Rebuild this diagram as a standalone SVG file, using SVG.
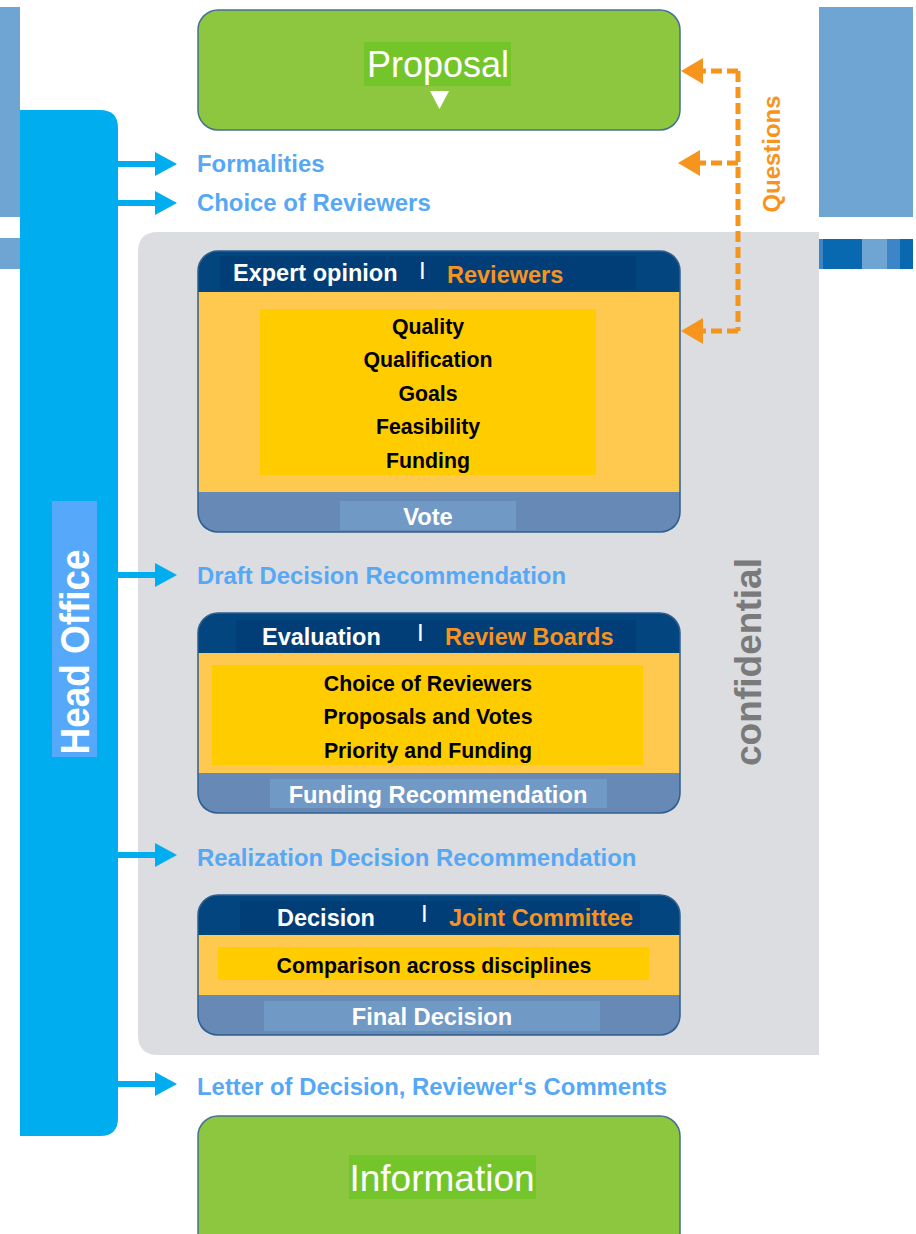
<svg xmlns="http://www.w3.org/2000/svg" width="916" height="1234" viewBox="0 0 916 1234">
<defs>
<style>
.lbl{font-family:"Liberation Sans",Arial,sans-serif;font-weight:bold;font-size:23.9px;fill:#56a8f5}
.hw{font-family:"Liberation Sans",Arial,sans-serif;font-weight:bold;font-size:23.5px;fill:#ffffff}
.ho{font-family:"Liberation Sans",Arial,sans-serif;font-weight:bold;font-size:23.5px;fill:#f7941d}
.sep{font-family:"Liberation Sans",Arial,sans-serif;font-size:24px;fill:#ffffff}
.it{font-family:"Liberation Sans",Arial,sans-serif;font-weight:bold;font-size:21.3px;fill:#000000;text-anchor:middle}
.bt{font-family:"Liberation Sans",Arial,sans-serif;font-weight:bold;font-size:23.7px;fill:#ffffff;text-anchor:middle}
.big{font-family:"Liberation Sans",Arial,sans-serif;font-size:37px;fill:#ffffff;text-anchor:middle}
.green{fill:#8dc63f;stroke:#45708f;stroke-width:1.5}
.hdr{fill:#03457f}
.body{fill:#fec94e}
.foot{fill:#6689b6}
.outline{fill:none;stroke:#2f5f8f;stroke-width:1.5}
.inner{fill:#ffcc00}
.hl{fill:#7099c6}
.hdrhl{fill:#013d77}
.blue{stroke:#00aeef;stroke-width:6;fill:none}
.q{stroke:#f7941d;stroke-width:5;fill:none;stroke-dasharray:11 5}
</style>
<marker id="ah" viewBox="0 0 22 24" refX="0" refY="12" markerWidth="22" markerHeight="24" markerUnits="userSpaceOnUse" orient="auto">
<path d="M0,0 L22,12 L0,24 Z" fill="#00aeef"/>
</marker>
<marker id="qa" viewBox="0 0 22 26" refX="0" refY="13" markerWidth="22" markerHeight="26" markerUnits="userSpaceOnUse" orient="auto">
<path d="M0,0 L22,13 L0,26 Z" fill="#f7941d"/>
</marker>
</defs>
<rect width="916" height="1234" fill="#ffffff"/>

<g id="background">
<rect x="0" y="7" width="20" height="210" fill="#6fa5d3"/>
<rect x="0" y="238" width="20" height="31" fill="#6fa5d3"/>
<rect x="819" y="7" width="94" height="210" fill="#6fa5d3"/>
<rect x="819" y="239" width="94" height="30" fill="#0868b0"/>
<rect x="819" y="239" width="4" height="30" fill="#3d85c6"/>
<rect x="862" y="239" width="25" height="30" fill="#6fa5d3"/>
<rect x="887" y="239" width="13" height="30" fill="#3d85c6"/>
</g>

<g id="confidential">
<path d="M158,232 H819 V1055 H158 Q138,1055 138,1035 V252 Q138,232 158,232 Z" fill="#dcdde0"/>
<text transform="translate(761,662) rotate(-90)" text-anchor="middle" textLength="208" lengthAdjust="spacingAndGlyphs" style="font-family:'Liberation Sans',Arial,sans-serif;font-weight:bold;font-size:37px;fill:#7a7a7a">confidential</text>
</g>

<g id="head-office">
<path d="M20,110 H100 Q118,110 118,128 V1118 Q118,1136 100,1136 H20 Z" fill="#00aeef"/>
<rect x="52" y="501" width="45" height="256" fill="#55a8fa"/>
<text transform="translate(89,652) rotate(-90)" text-anchor="middle" textLength="205" lengthAdjust="spacingAndGlyphs" style="font-family:'Liberation Sans',Arial,sans-serif;font-weight:bold;font-size:40px;fill:#ffffff">Head Office</text>
</g>

<g id="proposal">
<rect x="198" y="10" width="482" height="120" rx="20" class="green"/>
<rect x="364" y="42" width="147" height="44" fill="#74c52a"/>
<text x="438" y="77" class="big" style="font-size:36px">Proposal</text>
<path d="M430,91 L449,91 L439.5,109 Z" fill="#ffffff"/>
</g>

<g id="expert-opinion">
<rect x="198" y="251" width="482" height="281" rx="20" class="hdr"/>
<rect x="198" y="292" width="482" height="200" class="body"/>
<path d="M198,492 H680 V512 Q680,532 660,532 H218 Q198,532 198,512 Z" class="foot"/>
<rect x="220" y="256" width="416" height="34" class="hdrhl"/>
<rect x="260" y="309" width="336" height="166" class="inner"/>
<rect x="340" y="501" width="176" height="29" class="hl"/>
<rect x="198" y="251" width="482" height="281" rx="20" class="outline"/>
<text x="233" y="281" class="hw">Expert opinion</text>
<text x="419" y="279" class="sep">I</text>
<text x="447" y="283" class="ho">Reviewers</text>
<text x="428" y="334" class="it">Quality</text>
<text x="428" y="367" class="it">Qualification</text>
<text x="428" y="401" class="it">Goals</text>
<text x="428" y="434" class="it">Feasibility</text>
<text x="428" y="468" class="it">Funding</text>
<text x="428" y="525" class="bt">Vote</text>
</g>

<g id="evaluation">
<rect x="198" y="613" width="482" height="200" rx="20" class="hdr"/>
<rect x="198" y="653" width="482" height="120" class="body"/>
<path d="M198,773 H680 V793 Q680,813 660,813 H218 Q198,813 198,793 Z" class="foot"/>
<rect x="236" y="620" width="400" height="32" class="hdrhl"/>
<rect x="212" y="665" width="431" height="100" class="inner"/>
<rect x="270" y="779" width="337" height="29" class="hl"/>
<rect x="198" y="613" width="482" height="200" rx="20" class="outline"/>
<text x="262" y="645" class="hw">Evaluation</text>
<text x="417" y="641" class="sep">I</text>
<text x="445" y="645" class="ho">Review Boards</text>
<text x="428" y="691" class="it">Choice of Reviewers</text>
<text x="428" y="724" class="it">Proposals and Votes</text>
<text x="428" y="758" class="it">Priority and Funding</text>
<text x="438" y="803" class="bt">Funding Recommendation</text>
</g>

<g id="decision">
<rect x="198" y="895" width="482" height="140" rx="20" class="hdr"/>
<rect x="198" y="935" width="482" height="60" class="body"/>
<path d="M198,995 H680 V1015 Q680,1035 660,1035 H218 Q198,1035 198,1015 Z" class="foot"/>
<rect x="240" y="901" width="400" height="32" class="hdrhl"/>
<rect x="218" y="947" width="431" height="33" class="inner"/>
<rect x="264" y="1001" width="336" height="30" class="hl"/>
<rect x="198" y="895" width="482" height="140" rx="20" class="outline"/>
<text x="277" y="926" class="hw">Decision</text>
<text x="421" y="922" class="sep">I</text>
<text x="449" y="926" class="ho">Joint Committee</text>
<text x="434" y="973" class="it">Comparison across disciplines</text>
<text x="432" y="1025" class="bt">Final Decision</text>
</g>

<g id="information">
<rect x="198" y="1116" width="482" height="140" rx="20" class="green"/>
<rect x="349" y="1155" width="187" height="44" fill="#74c52a"/>
<text x="442" y="1191" class="big">Information</text>
</g>

<g id="labels">
<text x="197" y="172" class="lbl">Formalities</text>
<text x="197" y="211" class="lbl">Choice of Reviewers</text>
<text x="197" y="584" class="lbl">Draft Decision Recommendation</text>
<text x="197" y="866" class="lbl">Realization Decision Recommendation</text>
<text x="197" y="1095" class="lbl">Letter of Decision, Reviewer‘s Comments</text>
<text transform="translate(780,154) rotate(-90)" text-anchor="middle" textLength="117" lengthAdjust="spacingAndGlyphs" style="font-family:'Liberation Sans',Arial,sans-serif;font-weight:bold;font-size:24px;fill:#f7941d">Questions</text>
</g>

<g id="connectors">
<path d="M117,164 H155" class="blue" marker-end="url(#ah)"/>
<path d="M117,203 H155" class="blue" marker-end="url(#ah)"/>
<path d="M117,575 H155" class="blue" marker-end="url(#ah)"/>
<path d="M117,855 H155" class="blue" marker-end="url(#ah)"/>
<path d="M117,1084 H155" class="blue" marker-end="url(#ah)"/>
<path d="M738,71 V331" class="q"/>
<path d="M738,71 H703" class="q" marker-end="url(#qa)"/>
<path d="M738,163 H700" class="q" marker-end="url(#qa)"/>
<path d="M738,331 H703" class="q" marker-end="url(#qa)"/>
</g>
</svg>
